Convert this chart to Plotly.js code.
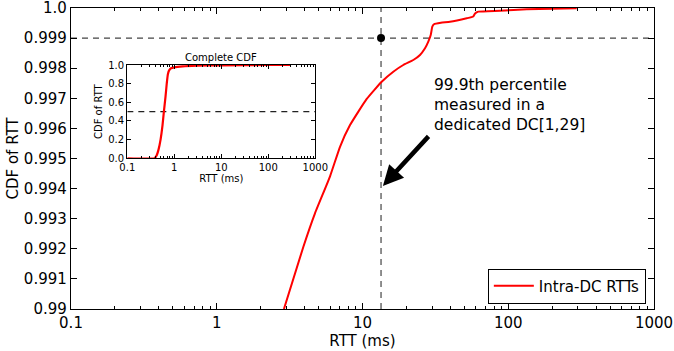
<!DOCTYPE html>
<html>
<head>
<meta charset="utf-8">
<script src="https://cdn.plot.ly/plotly-3.0.1.min.js"></script>
<style>html,body{margin:0;padding:0;background:#fff;}#chart{width:674px;height:351px;}</style>
</head>
<body>
<div id="chart"></div>
<script>
// ---- data ----
const mainRTT = [2.89, 3.93, 4.72, 5.98, 7.01, 8.21, 10.69, 13.54, 16.27, 19.05, 22.32, 24.8, 26.85, 28.28, 29.38, 30.13, 30.94, 34.5, 39.83, 51.9, 57.5, 59.2, 62.3, 87.8, 133.9, 295];
const mainCDF = [0.99, 0.99207, 0.99318, 0.99440, 0.99539, 0.99611, 0.99698, 0.997551, 0.997884, 0.998106, 0.998272, 0.998439, 0.998661, 0.99888, 0.99910, 0.99938, 0.99946, 0.99951, 0.99954, 0.99966, 0.99972, 0.99982, 0.99988, 0.99991, 0.99996, 0.99999];
const insetRTT = [0.1, 0.38, 0.42, 0.46, 0.51, 0.56, 0.60, 0.65, 0.69, 0.73, 0.77, 0.85, 1.0, 1.5, 3, 10, 100, 300];
const insetCDF = [0, 0, 0.03, 0.09, 0.2, 0.35, 0.5, 0.66, 0.8, 0.9, 0.94, 0.965, 0.975, 0.985, 0.992, 0.997, 0.9999, 1];
const percentileRTT = [13.4];
const percentileLevel = [0.999];
const insetMedian = [0.5];
const xTickVals = [0.1, 1, 10, 100, 1000];
const xTickText = ['0.1', '1', '10', '100', '1000'];
const yTickVals = [0.99, 0.991, 0.992, 0.993, 0.994, 0.995, 0.996, 0.997, 0.998, 0.999, 1.0];
const yTickText = ['0.99', '0.991', '0.992', '0.993', '0.994', '0.995', '0.996', '0.997', '0.998', '0.999', '1.0'];
const insetYTickVals = [0, 0.2, 0.4, 0.6, 0.8, 1.0];
const insetYTickText = ['0.0', '0.2', '0.4', '0.6', '0.8', '1.0'];
const xRange = [0.1, 1000];
const yRange = [0.99, 1.0];
const arrowTip = [13.8, 0.99409];
const noteAnchor = [30.0, 0.99678];
const seriesName = 'Intra-DC RTTs';
const noteText = '99.9th percentile<br>measured in a<br>dedicated DC[1,29]';

// minor log ticks
const minorVals = [];
for (let d = 0.1; d < 1000; d *= 10) {
  for (let k = 2; k <= 9; k++) minorVals.push(+(d * k).toPrecision(3));
}

const dashStyle = {color: '#444', width: 1.2, dash: '6px,5px'};

const traces = [
  {x: [xRange[0], xRange[1]], y: [percentileLevel[0], percentileLevel[0]], mode: 'lines', line: dashStyle, showlegend: false, hoverinfo: 'skip', xaxis: 'x', yaxis: 'y'},
  {x: [percentileRTT[0], percentileRTT[0]], y: [yRange[0], yRange[1]], mode: 'lines', line: dashStyle, showlegend: false, hoverinfo: 'skip', xaxis: 'x', yaxis: 'y'},
  {x: mainRTT, y: mainCDF, mode: 'lines', name: seriesName, line: {color: '#ff0000', width: 2, shape: 'spline', smoothing: 0.4}, xaxis: 'x', yaxis: 'y'},
  {x: percentileRTT, y: percentileLevel, mode: 'markers', marker: {color: 'black', size: 8}, showlegend: false, xaxis: 'x', yaxis: 'y'},
  {x: [xRange[0], xRange[1]], y: [insetMedian[0], insetMedian[0]], mode: 'lines', line: {color: '#222', width: 1.2, dash: '6px,5px'}, showlegend: false, xaxis: 'x2', yaxis: 'y2'},
  {x: insetRTT, y: insetCDF, mode: 'lines', line: {color: '#ff0000', width: 2.2, shape: 'spline', smoothing: 0.4}, showlegend: false, xaxis: 'x2', yaxis: 'y2'}
];

const axCommon = {showline: true, linecolor: 'black', linewidth: 1.2, mirror: 'allticks', ticks: 'inside', tickcolor: 'black', showgrid: false, zeroline: false, ticklabeloverflow: 'allow'};

const layout = {
  width: 674, height: 351,
  margin: {l: 71, r: 20, t: 8, b: 42},
  paper_bgcolor: 'white', plot_bgcolor: 'white',
  font: {family: 'DejaVu Sans', size: 15, color: 'black'},
  showlegend: true,
  legend: {x: 0.986, y: 0.018, xanchor: 'right', yanchor: 'bottom', bordercolor: 'black', borderwidth: 1, bgcolor: 'white', font: {size: 15}, itemwidth: 40},
  xaxis: Object.assign({}, axCommon, {
    type: 'log', range: [Math.log10(xRange[0]), Math.log10(xRange[1])], domain: [0, 1],
    tickmode: 'array', tickvals: xTickVals, ticktext: xTickText, ticklen: 6,
    minor: {tickmode: 'array', tickvals: minorVals, ticks: 'inside', ticklen: 3, tickcolor: 'black'},
    title: {text: 'RTT (ms)', font: {size: 15}, standoff: 3}
  }),
  yaxis: Object.assign({}, axCommon, {
    range: yRange, domain: [0, 1],
    tickmode: 'array', tickvals: yTickVals, ticktext: yTickText, ticklen: 6,
    title: {text: 'CDF of RTT', font: {size: 15}, standoff: 1}
  }),
  xaxis2: Object.assign({}, axCommon, {
    type: 'log', range: [Math.log10(xRange[0]), Math.log10(xRange[1])], domain: [0.0966, 0.419], anchor: 'y2',
    tickmode: 'array', tickvals: xTickVals, ticktext: xTickText, ticklen: 4, tickfont: {size: 10},
    minor: {tickmode: 'array', tickvals: minorVals, ticks: 'inside', ticklen: 2, tickcolor: 'black'},
    title: {text: 'RTT (ms)', font: {size: 10}, standoff: 2}
  }),
  yaxis2: Object.assign({}, axCommon, {
    range: [0, 1], domain: [0.5007, 0.8106], anchor: 'x2',
    tickmode: 'array', tickvals: insetYTickVals, ticktext: insetYTickText, ticklen: 4, tickfont: {size: 10},
    title: {text: 'CDF of RTT', font: {size: 10}, standoff: 3}
  }),
  annotations: [
    {xref: 'x2 domain', yref: 'y2 domain', x: 0.5, y: 1, xanchor: 'center', yanchor: 'bottom', text: 'Complete CDF', showarrow: false, font: {size: 10}, yshift: 0},
    {xref: 'x', yref: 'y', x: Math.log10(noteAnchor[0]), y: noteAnchor[1], xanchor: 'left', yanchor: 'middle', align: 'left', text: noteText, showarrow: false, font: {size: 15.5}},
    {xref: 'x', yref: 'y', x: Math.log10(arrowTip[0]), y: arrowTip[1], text: '', showarrow: true, arrowhead: 2, arrowsize: 0.9, arrowwidth: 4.5, arrowcolor: 'black', ax: 47, ay: -51, axref: 'pixel', ayref: 'pixel', standoff: 0}
  ]
};

Plotly.newPlot('chart', traces, layout, {displayModeBar: false, staticPlot: true});
</script>
</body>
</html>
